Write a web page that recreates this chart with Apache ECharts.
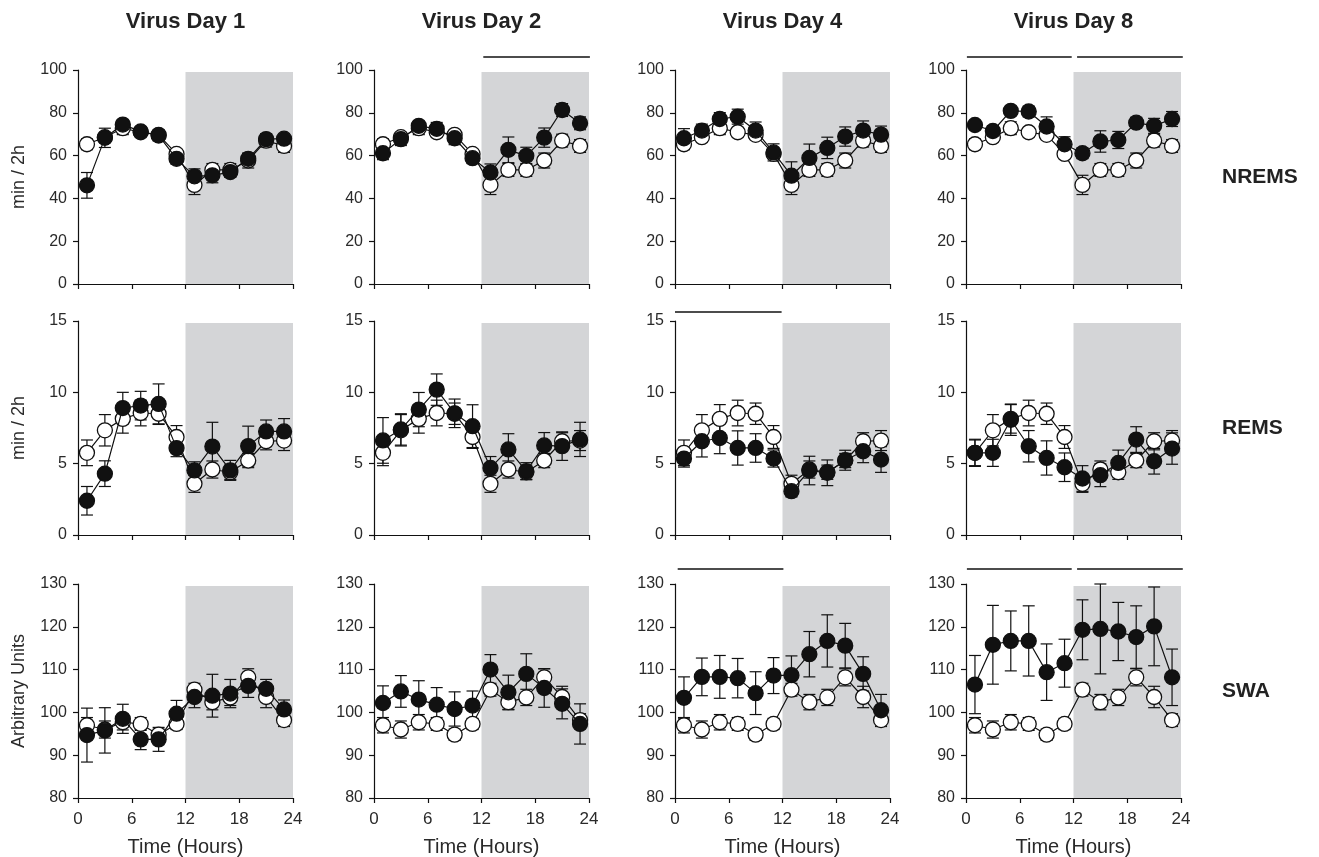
<!DOCTYPE html>
<html>
<head>
<meta charset="utf-8">
<script src="https://cdn.jsdelivr.net/npm/echarts@6/dist/echarts.min.js"></script>
<style>html,body{margin:0;padding:0;background:#fff}#chart{width:1319px;height:857px}</style>
</head>
<body>
<div id="chart"></div>
<script>
var myChart = echarts.init(document.getElementById('chart'));

var hours = [1, 3, 5, 7, 9, 11, 13, 15, 17, 19, 21, 23];
var xTicks = [0, 6, 12, 18, 24];
var darkPhase = [12, 24];
var dayTitles = ['Virus Day 1', 'Virus Day 2', 'Virus Day 4', 'Virus Day 8'];
var rowNames = ['NREMS', 'REMS', 'SWA'];
var yNames = ['min / 2h', 'min / 2h', 'Arbitrary Units'];

// control (open circles) is the same baseline on every day
var nremsCtrl = [65.3, 68.6, 72.8, 70.9, 69.7, 60.8, 46.3, 53.3, 53.3, 57.7, 67.0, 64.5];
var nremsCtrlErr = [2.5, 2, 3, 2, 2, 2, 4.5, 3, 3, 3.5, 3, 3];
var nremsVirus = [
    [46.1, 68.3, 74.5, 71.3, 69.4, 58.5, 50.3, 50.8, 52.3, 58.5, 67.7, 67.9],
    [61.1, 67.7, 73.9, 72.5, 68.1, 58.8, 52.1, 62.7, 59.9, 68.4, 81.3, 75.1],
    [68.1, 71.7, 77.1, 78.2, 71.7, 61.5, 50.6, 58.9, 63.6, 68.9, 71.7, 69.8],
    [74.3, 71.5, 80.9, 80.6, 73.6, 65.3, 61.1, 66.6, 67.3, 75.4, 73.9, 77.1]
];
var nremsVirusErr = [
    [6, 4.5, 2, 1.5, 2.5, 2.5, 3.5, 3.5, 2.5, 2.5, 2.5, 1.5],
    [3, 3, 2, 3, 3, 2.5, 4, 6, 4, 4.5, 3, 3],
    [4.5, 3, 3, 3.5, 4, 4, 6.5, 6.5, 5, 4.5, 4.5, 4],
    [2, 2.5, 1.5, 2.5, 4.5, 3.5, 2.5, 5, 4, 2.5, 3.5, 3.5]
];

var remsCtrl = [5.76, 7.34, 8.14, 8.55, 8.5, 6.87, 3.59, 4.59, 4.4, 5.22, 6.57, 6.62];
var remsCtrlErr = [0.9, 1.1, 1.0, 0.9, 0.75, 0.8, 0.6, 0.6, 0.5, 0.5, 0.6, 0.7];
var remsVirus = [
    [2.4, 4.3, 8.9, 9.07, 9.19, 6.09, 4.53, 6.2, 4.53, 6.23, 7.26, 7.26],
    [6.63, 7.4, 8.79, 10.19, 8.53, 7.63, 4.7, 6.0, 4.47, 6.28, 6.23, 6.7],
    [5.36, 6.57, 6.8, 6.1, 6.1, 5.36, 3.07, 4.52, 4.36, 5.24, 5.87, 5.29],
    [5.76, 5.76, 8.08, 6.22, 5.4, 4.75, 3.96, 4.19, 5.05, 6.69, 5.17, 6.06]
];
var remsVirusErr = [
    [1.0, 0.9, 1.1, 1.0, 1.4, 0.6, 0.6, 1.7, 0.7, 1.4, 0.8, 0.9],
    [1.6, 1.1, 1.2, 1.1, 1.0, 1.5, 0.8, 1.1, 0.6, 0.9, 1.0, 1.2],
    [0.6, 1.1, 1.1, 1.2, 1.0, 0.6, 0.4, 1.0, 0.9, 0.7, 0.8, 0.9],
    [0.95, 0.95, 1.1, 1.1, 1.2, 1.0, 0.9, 0.8, 0.9, 0.9, 0.9, 1.1]
];

var swaCtrl = [97.0, 96.0, 97.7, 97.3, 94.8, 97.3, 105.3, 102.4, 103.5, 108.2, 103.6, 98.2];
var swaCtrlErr = [1.8, 2, 1.8, 1.5, 1.3, 1.3, 1.5, 1.8, 1.9, 2, 2.5, 1.5];
var swaVirus = [
    [94.7, 95.8, 98.5, 93.7, 93.7, 99.7, 103.6, 103.9, 104.4, 106.2, 105.5, 100.7],
    [102.2, 104.9, 103.0, 101.8, 100.8, 101.6, 110.0, 104.7, 109.0, 105.7, 102.0, 97.3],
    [103.4, 108.3, 108.3, 108.0, 104.5, 108.6, 108.7, 113.6, 116.7, 115.6, 109.0, 100.5],
    [106.5, 115.8, 116.7, 116.7, 109.4, 111.5, 119.3, 119.5, 118.9, 117.6, 120.1, 108.2]
];
var swaVirusErr = [
    [6.3, 5.3, 3.4, 2.4, 2.8, 3.1, 2.5, 5, 3.3, 2.7, 2.2, 2.2],
    [4, 3.7, 4.4, 4, 4, 3.4, 3.5, 4, 4.7, 4.5, 3.5, 4.7],
    [4.9, 4.4, 5, 4.6, 5, 4.2, 4.5, 5.3, 6.1, 5.2, 4, 3.7],
    [6.8, 9.2, 7, 8.2, 6.6, 5.6, 7, 10.5, 6.8, 7.3, 9.2, 6.6]
];

// significance bars (hour ranges) per day
var nremsSig = [[], [[12.2, 24.1]], [], [[0.1, 11.8], [12.4, 24.2]]];
var remsSig = [[], [], [[0, 11.9]], []];
var swaSig = [[], [], [[0.3, 12.1]], [[0.1, 11.8], [12.4, 24.2]]];

var yMin = [0, 0, 80];
var yMax = [100, 15, 130];
var yStep = [20, 5, 10];

var rows = [
    {ctrl: nremsCtrl, ctrlErr: nremsCtrlErr, virus: nremsVirus, virusErr: nremsVirusErr, sig: nremsSig},
    {ctrl: remsCtrl, ctrlErr: remsCtrlErr, virus: remsVirus, virusErr: remsVirusErr, sig: remsSig},
    {ctrl: swaCtrl, ctrlErr: swaCtrlErr, virus: swaVirus, virusErr: swaVirusErr, sig: swaSig}
];

var gridLeft = [78, 374, 675, 966];
var gridTop = [70, 321, 584];
var gridW = 215, gridH = 214;
var sigOffset = [13, 9, 15];
var font = 'Liberation Sans, Arial, Helvetica, sans-serif';

function pairs(vals, errs) {
    return hours.map(function (h, i) {
        return errs ? [h, vals[i], errs[i]] : [h, vals[i]];
    });
}

function errorBarItem(params, api) {
    var x = api.value(0), m = api.value(1), e = api.value(2);
    var top = api.coord([x, m + e]);
    var bot = api.coord([x, m - e]);
    var style = {stroke: '#111', lineWidth: 1.2};
    return {
        type: 'group',
        children: [
            {type: 'line', shape: {x1: top[0], y1: top[1], x2: bot[0], y2: bot[1]}, style: style},
            {type: 'line', shape: {x1: top[0] - 6, y1: top[1], x2: top[0] + 6, y2: top[1]}, style: style},
            {type: 'line', shape: {x1: bot[0] - 6, y1: bot[1], x2: bot[0] + 6, y2: bot[1]}, style: style}
        ]
    };
}

var grids = [], xAxes = [], yAxes = [], series = [], graphics = [];

for (var r = 0; r < 3; r++) {
    for (var c = 0; c < 4; c++) {
        var idx = r * 4 + c;
        var row = rows[r];
        grids.push({left: gridLeft[c], top: gridTop[r], width: gridW, height: gridH, outerBoundsMode: 'none'});
        xAxes.push({
            type: 'value', gridIndex: idx, min: 0, max: 24, interval: 6,
            axisLine: {onZero: false, lineStyle: {color: '#111', width: 1.2}},
            axisTick: {length: 5, lineStyle: {color: '#111', width: 1.2}},
            axisLabel: {show: r === 2, fontSize: 17, color: '#2a2a2a', margin: 13, fontFamily: font},
            splitLine: {show: false},
            name: r === 2 ? 'Time (Hours)' : '',
            nameLocation: 'middle', nameGap: 39,
            nameTextStyle: {fontSize: 20, color: '#2a2a2a', fontFamily: font}
        });
        yAxes.push({
            type: 'value', gridIndex: idx, min: yMin[r], max: yMax[r], interval: yStep[r],
            axisLine: {show: true, lineStyle: {color: '#111', width: 1.2}},
            axisTick: {show: true, length: 5, lineStyle: {color: '#111', width: 1.2}},
            axisLabel: {fontSize: 16, color: '#2a2a2a', margin: 11, fontFamily: font},
            splitLine: {show: false},
            name: c === 0 ? yNames[r] : '',
            nameLocation: 'middle', nameGap: 50,
            nameTextStyle: {fontSize: 18, color: '#2a2a2a', fontFamily: font}
        });

        (function (r) {
            series.push({
                type: 'custom', xAxisIndex: idx, yAxisIndex: idx, z: 1, silent: true, clip: false,
                data: [darkPhase],
                renderItem: function (params, api) {
                    var p0 = api.coord([api.value(0), yMax[r]]);
                    var p1 = api.coord([api.value(1), yMin[r]]);
                    return {type: 'rect', shape: {x: p0[0], y: p0[1] + 2, width: p1[0] - p0[0], height: p1[1] - p0[1] - 2},
                        style: {fill: '#d4d5d7'}};
                }
            });
            series.push({
                type: 'custom', xAxisIndex: idx, yAxisIndex: idx, z: 1, silent: true, clip: false,
                data: row.sig[c],
                renderItem: function (params, api) {
                    var p0 = api.coord([api.value(0), yMax[r]]);
                    var p1 = api.coord([api.value(1), yMax[r]]);
                    var y = p0[1] - sigOffset[r];
                    return {type: 'line', shape: {x1: p0[0], y1: y, x2: p1[0], y2: y}, style: {stroke: '#111', lineWidth: 1.3}};
                }
            });
        })(r);

        series.push({
            type: 'custom', xAxisIndex: idx, yAxisIndex: idx, z: 2, silent: true, clip: false,
            data: pairs(row.ctrl, row.ctrlErr), renderItem: errorBarItem
        });
        series.push({
            type: 'custom', xAxisIndex: idx, yAxisIndex: idx, z: 2, silent: true, clip: false,
            data: pairs(row.virus[c], row.virusErr[c]), renderItem: errorBarItem
        });
        series.push({
            type: 'line', xAxisIndex: idx, yAxisIndex: idx, z: 3, clip: false,
            data: pairs(row.ctrl), symbol: 'circle', symbolSize: 15,
            lineStyle: {color: '#111', width: 1.2},
            itemStyle: {color: '#fff', borderColor: '#111', borderWidth: 1.3}
        });
        series.push({
            type: 'line', xAxisIndex: idx, yAxisIndex: idx, z: 4, clip: false,
            data: pairs(row.virus[c]), symbol: 'circle', symbolSize: 15,
            lineStyle: {color: '#111', width: 1.2},
            itemStyle: {color: '#111', borderColor: '#111', borderWidth: 1.3}
        });
    }
}

for (var c = 0; c < 4; c++) {
    graphics.push({
        type: 'text', x: gridLeft[c] + gridW / 2, y: 22,
        style: {text: dayTitles[c], textAlign: 'center', textVerticalAlign: 'middle',
            font: 'bold 22px ' + font, fill: '#222'}
    });
}
for (var r = 0; r < 3; r++) {
    graphics.push({
        type: 'text', x: 1222, y: gridTop[r] + gridH / 2,
        style: {text: rowNames[r], textAlign: 'left', textVerticalAlign: 'middle',
            font: 'bold 21px ' + font, fill: '#222'}
    });
}

myChart.setOption({
    backgroundColor: '#fff',
    animation: false,
    textStyle: {fontFamily: font},
    grid: grids,
    xAxis: xAxes,
    yAxis: yAxes,
    series: series,
    graphic: graphics
});
</script>
</body>
</html>
